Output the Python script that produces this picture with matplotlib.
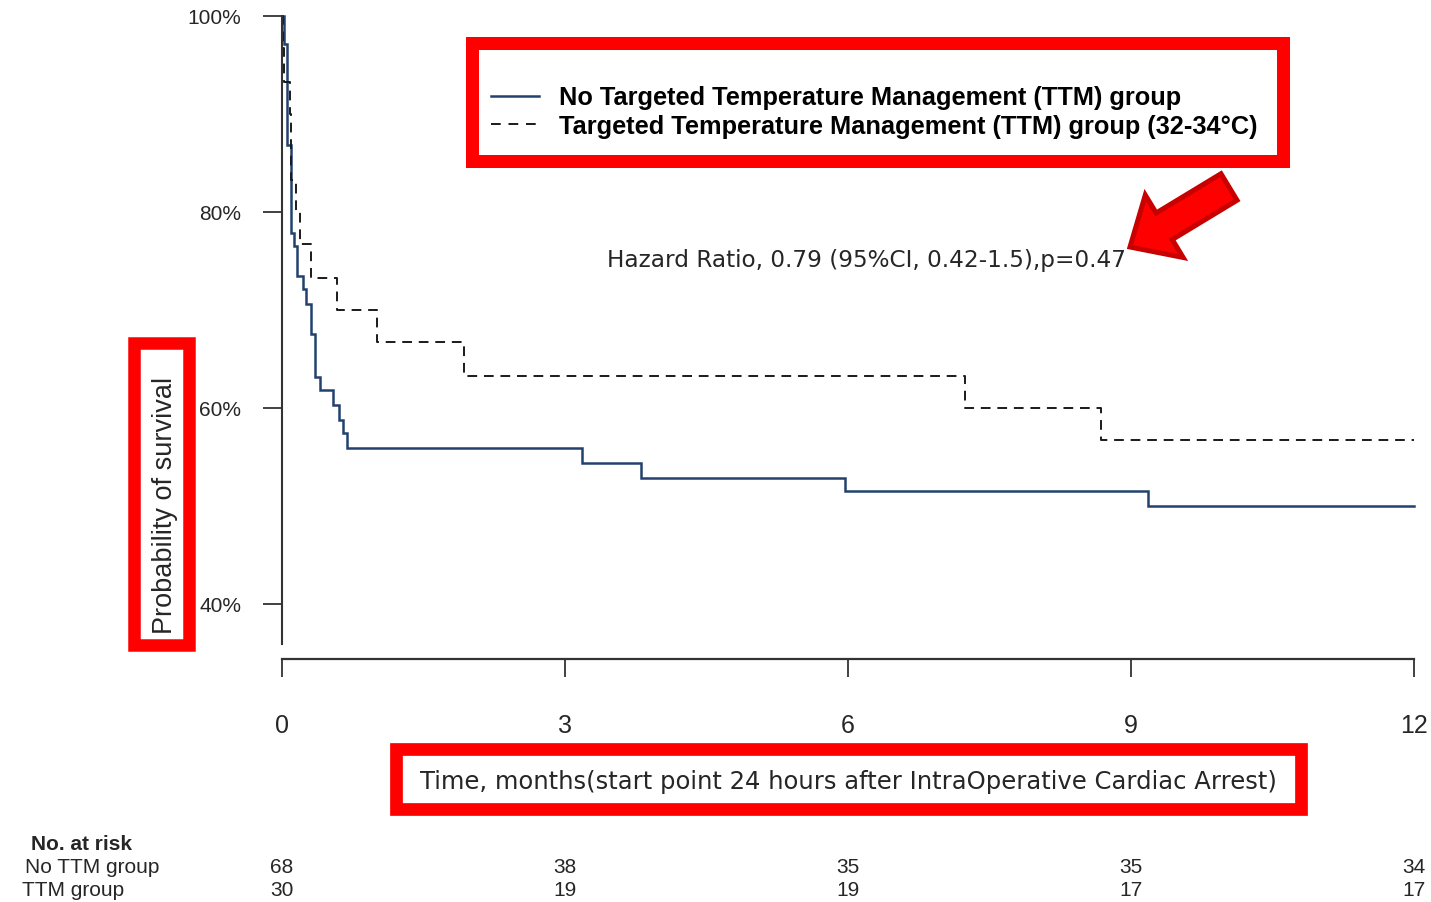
import matplotlib
matplotlib.use("Agg")
import matplotlib.pyplot as plt
from matplotlib.patches import Rectangle, FancyArrow
from matplotlib.lines import Line2D
from matplotlib.transforms import blended_transform_factory

plt.rcParams['font.family'] = ['Liberation Sans', 'DejaVu Sans']

# Kaplan-Meier estimates (months, survival %)
t_no_ttm = [0, 0.025, 0.056, 0.10, 0.127, 0.155, 0.226, 0.254, 0.31, 0.35,
            0.40, 0.54, 0.60, 0.65, 0.69, 3.18, 3.81, 5.97, 9.18, 12]
s_no_ttm = [100, 97.1, 86.8, 77.9, 76.5, 73.5, 72.1, 70.6, 67.6, 63.2,
            61.8, 60.3, 58.8, 57.4, 55.9, 54.4, 52.9, 51.5, 50.0, 50.0]

t_ttm = [0, 0.01, 0.02, 0.085, 0.095, 0.10, 0.148, 0.19, 0.31, 0.58,
         1.01, 1.93, 7.24, 8.68, 12]
s_ttm = [100, 96.7, 93.3, 90.0, 86.7, 83.3, 80.0, 76.7, 73.3, 70.0,
         66.7, 63.3, 60.0, 56.7, 56.7]

x_ticks = [0, 3, 6, 9, 12]
y_ticks = [40, 60, 80, 100]
y_tick_labels = ['40%', '60%', '80%', '100%']

risk_rows = ['No TTM group', 'TTM group']
risk_no_ttm = [68, 38, 35, 35, 34]
risk_ttm = [30, 19, 19, 17, 17]

legend_labels = ['No Targeted Temperature Management (TTM) group',
                 'Targeted Temperature Management (TTM) group (32-34\u00b0C)']
hr_text = 'Hazard Ratio, 0.79 (95%CI, 0.42-1.5),p=0.47'
x_label = 'Time, months(start point 24 hours after IntraOperative Cardiac Arrest)'
y_label = 'Probability of survival'

W, H = 1431, 903
fig = plt.figure(figsize=(W / 100, H / 100), dpi=100)
fig.patch.set_facecolor('white')


def fx(px):
    return px / W


def fy(py):
    return 1 - py / H


navy = '#23416e'
ink = '#262626'
red = '#ff0000'

ax = fig.add_axes([fx(282), fy(645), (1414 - 282) / W, (645 - 17) / H])
ax.set_xlim(0, 12)
ax.set_ylim(100 - (645 - 17) / 9.8, 100)

ax.step(t_no_ttm, s_no_ttm, where='post', color=navy, lw=1.8, clip_on=False,
        solid_joinstyle='miter')
ax.step(t_ttm, s_ttm, where='post', color='#1a1a1a', lw=1.4,
        linestyle=(0, (5, 3.5)), clip_on=False)

for side in ('top', 'right'):
    ax.spines[side].set_visible(False)
ax.spines['left'].set_color('#333333')
ax.spines['left'].set_linewidth(1.5)
ax.spines['bottom'].set_color('#333333')
ax.spines['bottom'].set_linewidth(1.6)
ax.spines['bottom'].set_position(('outward', 10.8))

ax.set_xticks(x_ticks)
ax.set_xticklabels([str(v) for v in x_ticks])
ax.set_yticks(y_ticks)
ax.set_yticklabels(y_tick_labels)
ax.tick_params(axis='x', length=13, width=1.3, pad=26, labelsize=18,
               colors='#333333', labelcolor=ink)
ax.tick_params(axis='y', length=13.7, width=1.3, pad=15.8, labelsize=15,
               colors='#333333', labelcolor=ink)

handles = [Line2D([], [], color=navy, lw=1.8),
           Line2D([], [], color='#1a1a1a', lw=1.4, linestyle=(0, (5, 4)))]
ax.legend(handles, legend_labels, loc='center left',
          bbox_to_anchor=(fx(491), fy(112.5)), bbox_transform=fig.transFigure,
          frameon=False, borderpad=0, borderaxespad=0, handlelength=1.87,
          handletextpad=0.8, labelspacing=0.16,
          prop=dict(family='Liberation Sans', weight='bold', size=18.3))

fig.text(fx(607), fy(260), hr_text, family='DejaVu Sans', size=16.7,
         color=ink, ha='left', va='center')
fig.text(fx(848), fy(782), x_label, family='DejaVu Sans', size=17.5,
         color=ink, ha='center', va='center')
fig.text(fx(165), fy(505), y_label, size=19.5, rotation=90, color=ink,
         ha='center', va='center')

# number-at-risk table
fig.text(fx(31), fy(845), 'No. at risk', size=15, weight='bold', color=ink,
         ha='left', va='center')
fig.text(fx(25), fy(868), risk_rows[0], size=15, color=ink, ha='left', va='center')
fig.text(fx(22), fy(891), risk_rows[1], size=15, color=ink, ha='left', va='center')
trans = blended_transform_factory(ax.transData, fig.transFigure)
for xv, a, b in zip(x_ticks, risk_no_ttm, risk_ttm):
    ax.text(xv, fy(868), str(a), transform=trans, size=15, color=ink,
            ha='center', va='center', clip_on=False)
    ax.text(xv, fy(891), str(b), transform=trans, size=15, color=ink,
            ha='center', va='center', clip_on=False)

# highlight boxes and arrow, drawn in pixel space
ov = fig.add_axes([0, 0, 1, 1])
ov.set_xlim(0, W)
ov.set_ylim(H, 0)
ov.axis('off')
ov.patch.set_alpha(0)


def frame(x0, y0, x1, y1, lw_px):
    ov.add_patch(Rectangle((x0, y0), x1 - x0, y1 - y0, fill=False,
                           edgecolor=red, lw=lw_px * 0.72, joinstyle='miter'))


frame(471.5, 43.5, 1282.5, 161.5, 13)
frame(133.5, 343.5, 189, 646, 12.5)
frame(396.3, 750.3, 1300.7, 810.3, 12.7)

ov.add_patch(FancyArrow(1229, 188, 1130 - 1229, 248 - 188, width=31,
                        head_width=73, head_length=40,
                        length_includes_head=True, facecolor=red,
                        edgecolor='#c80000', lw=3.6, joinstyle='miter'))

fig.savefig('out.png', dpi=100, facecolor='white')
